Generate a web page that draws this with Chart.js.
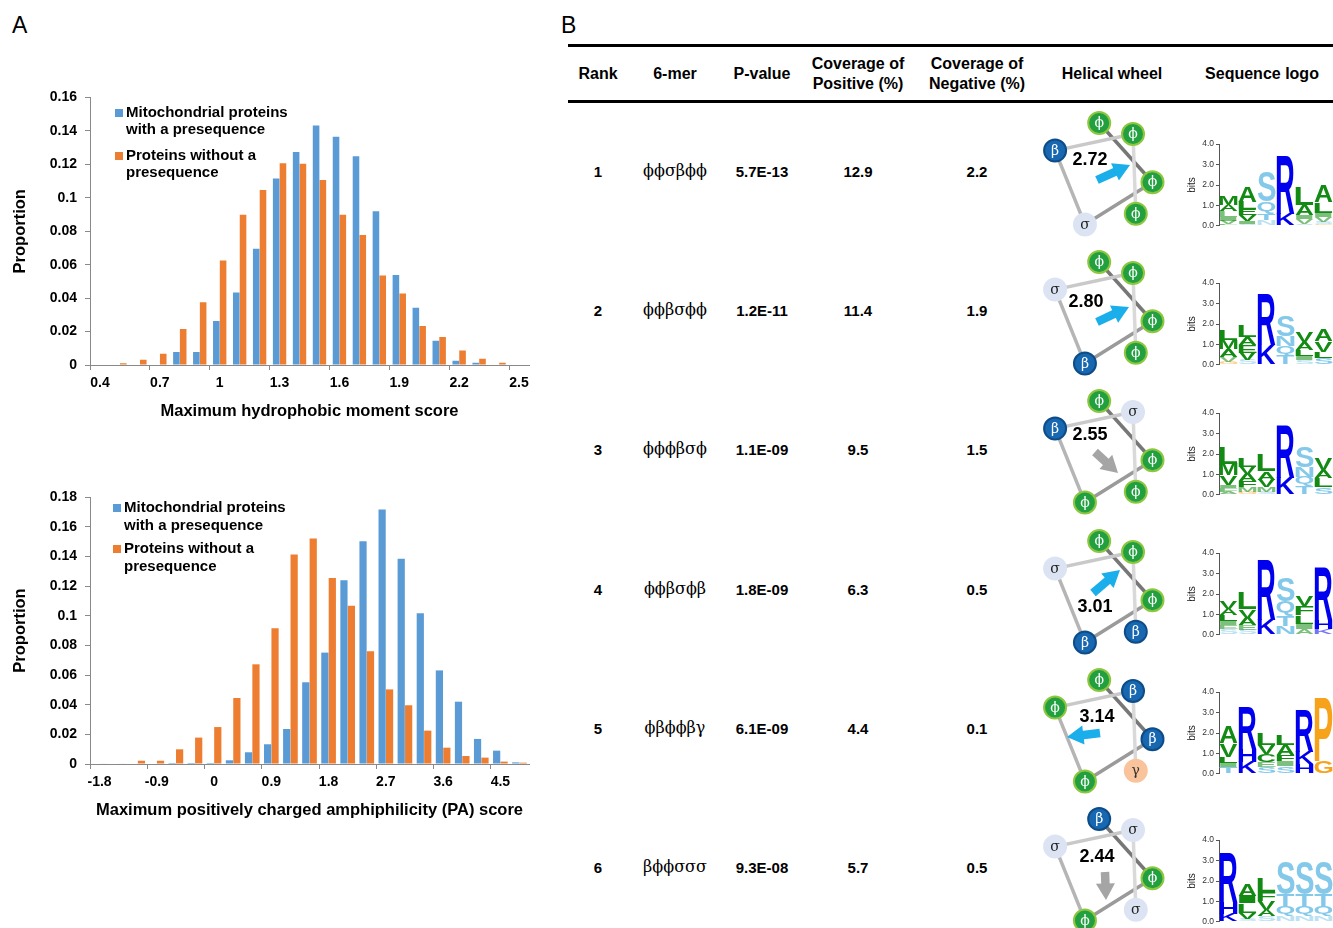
<!DOCTYPE html>
<html>
<head>
<meta charset="utf-8">
<script src="https://cdn.jsdelivr.net/npm/chart.js@4.4.0/dist/chart.umd.min.js"></script>
<style>
body{margin:0;width:1333px;height:928px;overflow:hidden;background:#fff;position:relative;font-family:"Liberation Sans",Arial,sans-serif;color:#000}
canvas{position:absolute}
.panel{position:absolute;font-size:23px;line-height:1}
.cell{position:absolute;transform:translate(-50%,-50%);white-space:nowrap;text-align:center;font-weight:bold;font-size:15px;line-height:20px}
.hdr{font-size:16px}
.motif{font-family:"DejaVu Serif","Liberation Serif",serif;font-weight:normal;font-size:16px}
.rule{position:absolute;left:568px;width:765px;height:3px;background:#000}
</style>
</head>
<body>
<div class="panel" style="left:12px;top:14px">A</div>
<div class="panel" style="left:561px;top:14px">B</div>
<div class="rule" style="top:44px"></div>
<div class="rule" style="top:100px"></div>
<div id="table"></div>

<script>
// ---- panel A data ----
const seriesNames = [["Mitochondrial proteins", "with a presequence"], ["Proteins without a", "presequence"]];

const hmCategories = ["0.4","0.5","0.6","0.7","0.8","0.9","1","1.1","1.2","1.3","1.4","1.5","1.6","1.7","1.8","1.9","2","2.1","2.2","2.3","2.4","2.5"];
const hmPresequence = [0, 0, 0, 0, 0.0078, 0.0078, 0.0263, 0.0434, 0.0695, 0.1116, 0.1274, 0.1433, 0.1365, 0.1248, 0.0919, 0.0539, 0.0342, 0.0145, 0.0026, 0.0014, 0, 0];
const hmNoPresequence = [0, 0.001, 0.0032, 0.0068, 0.0215, 0.0376, 0.0625, 0.0898, 0.1047, 0.1206, 0.1204, 0.1107, 0.0898, 0.0778, 0.0535, 0.0428, 0.0233, 0.0167, 0.0086, 0.0038, 0.0014, 0];

const paCategories = ["-1.8","-1.5","-1.2","-0.9","-0.6","-0.3","0","0.3","0.6","0.9","1.2","1.5","1.8","2.1","2.4","2.7","3","3.3","3.6","3.9","4.2","4.5","4.8"];
const paPresequence = [0, 0, 0, 0, 0.0007, 0.0007, 0.0007, 0.0025, 0.0079, 0.0133, 0.0236, 0.0551, 0.0751, 0.1238, 0.1501, 0.1715, 0.1384, 0.1016, 0.0631, 0.042, 0.0169, 0.009, 0.0011];
const paNoPresequence = [0.0003, 0.0003, 0.0022, 0.0022, 0.0099, 0.0178, 0.0249, 0.0445, 0.0672, 0.0915, 0.1413, 0.1521, 0.1254, 0.1067, 0.076, 0.0503, 0.0396, 0.0225, 0.011, 0.0054, 0.0043, 0.0016, 0.0009];

// ---- panel B data ----
const ranks = [1, 2, 3, 4, 5, 6];
const motifs = ["ϕϕσβϕϕ", "ϕϕβσϕϕ", "ϕϕϕβσϕ", "ϕϕβσϕβ", "ϕβϕϕβγ", "βϕϕσσσ"];
const pValues = ["5.7E-13", "1.2E-11", "1.1E-09", "1.8E-09", "6.1E-09", "9.3E-08"];
const coveragePos = ["12.9", "11.4", "9.5", "6.3", "4.4", "5.7"];
const coverageNeg = ["2.2", "1.9", "1.5", "0.5", "0.1", "0.5"];
const moments = [2.72, 2.80, 2.55, 3.01, 3.14, 2.44];
// moment arrow tail / tip, in wheel units (y up), and where the value sits
const momentTail = [[-4, -5], [-4, -8], [-6, 1], [-8, 0], [-1, -1], [4, -1]];
const momentTip = [[29, 10], [28, 7], [17, -20], [19, 23], [-34, -5], [5, -29]];
const momentLabelAt = [[-11, 15], [-15, 12], [-11, 18], [-6, -14], [-4, 15], [-4, 14]];
const momentSignificant = [true, true, false, true, true, false];

// sequence logos: letters bottom-to-top per position, heights in bits
const logoLetters = [
  [["F","V","I","L","A","M"], ["S","I","V","E","L","A"], ["N","T","Q","S"], ["K","R"], ["S","V","I","A","L"], ["G","S","V","I","L","A"]],
  [["G","V","A","M","L"], ["S","V","E","A","L"], ["K","R"], ["T","Q","N","S"], ["S","I","L","A","V"], ["S","L","V","A"]],
  [["A","F","I","V","M","L"], ["G","M","F","A","V","L"], ["S","M","V","A","L"], ["K","R"], ["T","Q","N","S"], ["S","L","A","V"]],
  [["S","E","I","L","A","V"], ["S","E","A","V","L"], ["K","R"], ["N","T","Q","S"], ["A","I","L","F","V"], ["K","H","R"]],
  [["T","I","L","V","A"], ["K","H","R"], ["S","E","C","V","L"], ["S","I","F","A","L"], ["H","K","R"], ["G","P"]],
  [["K","H","R"], ["S","V","L","I","A"], ["S","A","V","F","L"], ["N","Q","T","S"], ["N","Q","T","S"], ["N","Q","T","S"]]
];
const logoBits = [
  [[0.1,0.15,0.2,0.28,0.3,0.45], [0.1,0.12,0.3,0.3,0.35,0.75], [0.3,0.3,0.6,1.46], [0.6,2.84], [0.1,0.22,0.2,0.5,0.9], [0.1,0.1,0.25,0.2,0.5,0.85]],
  [[0.12,0.25,0.4,0.43,0.5], [0.25,0.35,0.35,0.4,0.55], [0.95,2.51], [0.45,0.45,0.5,1.05], [0.24,0.2,0.3,0.4,0.5], [0.35,0.3,0.5,0.55]],
  [[0.15,0.2,0.15,0.45,0.55,0.8], [0.13,0.25,0.3,0.35,0.35,0.45], [0.15,0.25,0.35,0.4,0.8], [0.85,2.54], [0.42,0.45,0.5,1.05], [0.37,0.45,0.4,0.55]],
  [[0.28,0.2,0.2,0.3,0.3,0.35], [0.25,0.25,0.35,0.4,0.8], [0.75,2.91], [0.42,0.5,0.7,1.15], [0.3,0.25,0.4,0.45,0.5], [0.3,0.45,2.55]],
  [[0.34,0.2,0.3,0.65,0.85], [0.6,0.6,2.03], [0.35,0.25,0.35,0.45,0.55], [0.37,0.25,0.3,0.5,0.5], [0.47,0.62,2.04], [0.6,3.1]],
  [[0.4,0.55,2.4], [0.15,0.3,0.45,0.35,0.55], [0.28,0.3,0.45,0.45,0.7], [0.3,0.45,0.6,1.6], [0.3,0.45,0.6,1.6], [0.3,0.45,0.6,1.6]]
];

// ---- styles ----
const sans = '"Liberation Sans", Arial, sans-serif';
const serif = '"DejaVu Serif", "Liberation Serif", serif';
const axisGray = "#898989";
const blue = "#5B9BD5";
const orange = "#ED7D31";
const residueStyle = {
  "ϕ": {fill: "#22A040", border: "#8DC63F", text: "#fff"},
  "β": {fill: "#1767B1", border: "#0E4C88", text: "#fff"},
  "σ": {fill: "#DCE4F3", border: "#DCE4F3", text: "#222"},
  "γ": {fill: "#F9C49B", border: "#F9C49B", text: "#333"}
};
const backboneShades = ["#777777", "#9a9a9a", "#b5b5b5", "#c9c9c9", "#d9d9d9"];

function makeCanvas(left, top, w, h) {
  const c = document.createElement("canvas");
  c.width = w; c.height = h;
  c.style.left = left + "px"; c.style.top = top + "px";
  c.style.width = w + "px"; c.style.height = h + "px";
  document.body.appendChild(c);
  return c;
}

// legend drawn inside the plot area, like the Excel original
const innerLegend = {
  id: "innerLegend",
  afterDraw(chart, args, opts) {
    const ctx = chart.ctx;
    ctx.save();
    ctx.font = "bold 15px " + sans;
    ctx.textBaseline = "middle";
    chart.data.datasets.forEach((ds, i) => {
      const y0 = opts.top + i * opts.entryGap;
      ctx.fillStyle = ds.backgroundColor;
      ctx.fillRect(opts.left, y0 - 4, 8, 8);
      ctx.fillStyle = "#000";
      ds.label.forEach((line, j) => ctx.fillText(line, opts.left + 11, y0 + j * opts.lineGap));
    });
    ctx.restore();
  }
};

function histogram(top, height, padTop, cats, pre, non, yMax, xTitle, legendOpts, catPct) {
  const cv = makeCanvas(0, top, 545, height);
  return new Chart(cv, {
    type: "bar",
    data: {
      labels: cats,
      datasets: [
        {label: seriesNames[0], data: pre, backgroundColor: blue},
        {label: seriesNames[1], data: non, backgroundColor: orange}
      ]
    },
    options: {
      responsive: false,
      animation: false,
      layout: {padding: {top: padTop, right: 16, left: 0, bottom: 0}},
      datasets: {bar: {categoryPercentage: catPct, barPercentage: 0.97}},
      plugins: {legend: {display: false}, tooltip: {enabled: false}, innerLegend: legendOpts},
      scales: {
        x: {
          afterFit: s => { s.height = 56; },
          grid: {
            offset: true, drawOnChartArea: false, tickLength: 5,
            color: c => (c.index % 3 === 0 ? axisGray : "rgba(0,0,0,0)")
          },
          border: {color: axisGray},
          ticks: {
            autoSkip: false, maxRotation: 0, padding: 5, color: "#000",
            font: {size: 14, weight: "bold", family: sans},
            callback: (v, i) => (i % 3 === 0 ? cats[i] : "")
          },
          title: {display: true, text: xTitle, color: "#000", padding: {top: 0, bottom: 0},
                  font: {size: 16.5, weight: "bold", family: sans}}
        },
        y: {
          min: 0, max: yMax,
          afterFit: s => { s.width = 90; },
          grid: {drawOnChartArea: false, tickLength: 5, color: axisGray},
          border: {color: axisGray},
          ticks: {stepSize: 0.02, padding: 8, color: "#000",
                  font: {size: 14, weight: "bold", family: sans},
                  callback: v => String(+v.toFixed(2))},
          title: {display: true, text: "Proportion", color: "#000", padding: {top: 11, bottom: 0},
                  font: {size: 16.5, weight: "bold", family: sans}}
        }
      }
    },
    plugins: [innerLegend]
  });
}

histogram(80, 341, 17.5, hmCategories, hmPresequence, hmNoPresequence, 0.16,
  "Maximum hydrophobic moment score", {left: 115, top: 33, entryGap: 43, lineGap: 17}, 0.68);
histogram(480, 340, 17, paCategories, paPresequence, paNoPresequence, 0.18,
  "Maximum positively charged amphiphilicity (PA) score", {left: 113, top: 28, entryGap: 41, lineGap: 17.5}, 0.78);

// ---- panel B table text ----
const table = document.getElementById("table");
function cell(x, y, html, cls) {
  const d = document.createElement("div");
  d.className = "cell" + (cls ? " " + cls : "");
  d.style.left = x + "px"; d.style.top = y + "px";
  d.innerHTML = html;
  table.appendChild(d);
}
const colX = [598, 675, 762, 858, 977, 1112, 1262];
const headers = ["Rank", "6-mer", "P-value", "Coverage of<br>Positive (%)", "Coverage of<br>Negative (%)", "Helical wheel", "Sequence logo"];
headers.forEach((h, i) => cell(colX[i], 74, h, "hdr"));
const rowY = [172, 311, 450, 590, 729, 868];
ranks.forEach((r, i) => {
  cell(colX[0], rowY[i], r);
  cell(colX[1], rowY[i] - 1, motifs[i], "motif");
  cell(colX[2], rowY[i], pValues[i]);
  cell(colX[3], rowY[i], coveragePos[i]);
  cell(colX[4], rowY[i], coverageNeg[i]);
});

// ---- helical wheels ----
const wheelStart = -2, wheelRadius = 52;
function wheelXY(i) {
  const a = (wheelStart + 100 * i) * Math.PI / 180;
  return {x: wheelRadius * Math.sin(a), y: wheelRadius * Math.cos(a)};
}
const wheelText = {
  id: "wheelText",
  afterDatasetsDraw(chart, args, opts) {
    const r = opts.row;
    const ctx = chart.ctx;
    const motif = Array.from(motifs[r]);
    ctx.save();
    ctx.textAlign = "center";
    ctx.textBaseline = "middle";
    ctx.font = "14px " + serif;
    chart.getDatasetMeta(0).data.forEach((pt, i) => {
      ctx.fillStyle = residueStyle[motif[i]].text;
      ctx.fillText(motif[i], pt.x, pt.y + 0.5);
    });
    ctx.font = "bold 18px " + sans;
    ctx.fillStyle = "#000";
    ctx.fillText(moments[r].toFixed(2),
      chart.scales.x.getPixelForValue(momentLabelAt[r][0]),
      chart.scales.y.getPixelForValue(momentLabelAt[r][1]));
    ctx.restore();
  }
};

rowY.forEach((y, r) => {
  const motif = Array.from(motifs[r]);
  const pts = motif.map((m, i) => wheelXY(i));
  const tail = momentTail[r], tip = momentTip[r];
  const dx = tip[0] - tail[0], dy = tip[1] - tail[1];
  const len = Math.hypot(dx, dy);
  const headR = 11;
  const head = {x: tip[0] - dx / len * headR, y: tip[1] - dy / len * headR};
  const rot = Math.atan2(dx, dy) * 180 / Math.PI;
  const arrowColor = momentSignificant[r] ? "#1AAEEA" : "#A5A5A5";
  const cv = makeCanvas(1026, y - 67, 150, 140);
  new Chart(cv, {
    type: "scatter",
    data: {
      datasets: [
        {data: pts, pointRadius: 11, pointBorderWidth: 2,
         pointBackgroundColor: motif.map(m => residueStyle[m].fill),
         pointBorderColor: motif.map(m => residueStyle[m].border)},
        {data: [{x: tail[0], y: tail[1]}, head], showLine: true, borderWidth: 8.5, borderColor: arrowColor,
         borderCapStyle: "butt", pointRadius: [0, headR], pointStyle: "triangle", pointRotation: [0, rot],
         pointBackgroundColor: arrowColor, pointBorderColor: arrowColor, pointBorderWidth: 0},
        {data: pts, showLine: true, borderWidth: 3.5, pointRadius: 0, borderColor: backboneShades[0],
         segment: {borderColor: c => backboneShades[c.p0DataIndex]}}
      ]
    },
    options: {
      responsive: false,
      animation: false,
      layout: {padding: 0, autoPadding: false},
      plugins: {legend: {display: false}, tooltip: {enabled: false}, wheelText: {row: r}},
      scales: {
        x: {type: "linear", min: -75, max: 75, display: false},
        y: {type: "linear", min: -70, max: 70, display: false}
      }
    },
    plugins: [wheelText]
  });
});

// ---- sequence logos ----
function letterColor(ch) {
  if ("RKH".includes(ch)) return "#0000EE";
  if ("STQN".includes(ch)) return "#84C9EA";
  if ("PG".includes(ch)) return "#F7A21B";
  return "#138A13";
}
function drawLetter(ctx, ch, x, y, w, h, color) {
  ctx.save();
  ctx.font = "bold 100px " + sans;
  ctx.textAlign = "left";
  ctx.textBaseline = "alphabetic";
  const m = ctx.measureText(ch);
  const asc = m.actualBoundingBoxAscent, desc = m.actualBoundingBoxDescent;
  const left = m.actualBoundingBoxLeft, right = m.actualBoundingBoxRight;
  ctx.translate(x, y);
  ctx.scale(w / (left + right), h / (asc + desc));
  ctx.fillStyle = color;
  ctx.fillText(ch, left, asc);
  ctx.restore();
}
const logoPlugin = {
  id: "logoPlugin",
  afterDatasetsDraw(chart) {
    const ctx = chart.ctx;
    const area = chart.chartArea;
    ctx.save();
    ctx.beginPath();
    ctx.rect(area.left, 0, area.right - area.left, chart.height);
    ctx.clip();
    chart.data.datasets.forEach((ds, di) => {
      chart.getDatasetMeta(di).data.forEach((bar, ci) => {
        const ch = ds.letters[ci];
        if (!ch) return;
        const p = bar.getProps(["x", "y", "base", "width"], true);
        const h = p.base - p.y;
        if (h < 0.5) return;
        // the lowest, weakest letters are drawn faded as in the original logo
        ctx.globalAlpha = h < 6 ? 0.55 : 1;
        drawLetter(ctx, ch, p.x - p.width / 2, p.y, p.width, h, letterColor(ch));
      });
    });
    ctx.restore();
  }
};
const logoOffset = [-30.4, -30.4, -38.7, -38.7, -38.7, -30.4];
rowY.forEach((y, r) => {
  const cols = logoLetters[r];
  const depth = Math.max(...cols.map(c => c.length));
  const datasets = [];
  for (let j = 0; j < depth; j++) {
    datasets.push({
      data: cols.map((c, ci) => logoBits[r][ci][j] || 0),
      letters: cols.map(c => c[j] || ""),
      backgroundColor: "rgba(0,0,0,0)",
      borderWidth: 0
    });
  }
  const cv = makeCanvas(1180, Math.round(y + logoOffset[r] - 5), 153, 96);
  new Chart(cv, {
    type: "bar",
    data: {labels: ["1", "2", "3", "4", "5", "6"], datasets},
    options: {
      responsive: false,
      animation: false,
      layout: {padding: {top: 5, bottom: 5, left: 0, right: 0}},
      datasets: {bar: {categoryPercentage: 1, barPercentage: 0.94}},
      plugins: {legend: {display: false}, tooltip: {enabled: false}},
      scales: {
        x: {stacked: true, display: false},
        y: {
          stacked: true, min: 0, max: 4,
          afterFit: s => { s.width = 39; },
          ticks: {stepSize: 1, padding: 2, color: "#333", font: {size: 8.5, family: sans},
                  callback: v => v.toFixed(1)},
          grid: {drawOnChartArea: false, tickLength: 3, color: "#555"},
          border: {color: "#555"},
          title: {display: true, text: "bits", color: "#222", padding: {top: 6, bottom: 0},
                  font: {size: 10, family: sans}}
        }
      }
    },
    plugins: [logoPlugin]
  });
});
</script>
</body>
</html>
